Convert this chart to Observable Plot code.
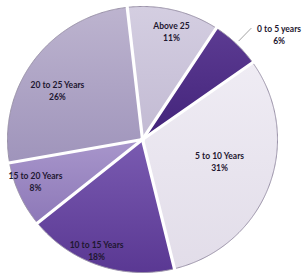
<!DOCTYPE html>
<html><head><meta charset="utf-8">
<script src="https://cdn.jsdelivr.net/npm/d3@7"></script>
<script src="https://cdn.jsdelivr.net/npm/@observablehq/plot@0.6"></script>
<style>body{margin:0;background:#fff} #chart svg{display:block}</style>
</head><body><div id="chart"></div>
<script>
// ---- data ----
const categories = ["0 to 5 years", "5 to 10 Years", "10 to 15 Years", "15 to 20 Years", "20 to 25 Years", "Above 25"];
const shares = [6, 31, 18, 8, 26, 11];

// ---- layout / style (not data) ----
const START_DEG = 33.1;
const gradTop    = ["#5c3b92", "#efecf4", "#7a5bb1", "#a896cb", "#bdb4cf", "#d4cee1"];
const gradBottom = ["#42237a", "#e2dde9", "#5a3893", "#8d78b8", "#9f94bb", "#c2bad3"];
const labelRadius = [null, 0.594, 0.90, 0.853, 0.73, 0.84];
const labelTurnDeg = [0, -4.4, 3.5, 2.8, -6.4, 1.5];
const W = 304, H = 274, CX = 142, CY = 139, RX = 135, RY = 133;

const rad = Math.PI / 180;
const arcs = d3.pie().sort(null)
  .startAngle(START_DEG * rad).endAngle(START_DEG * rad + 2 * Math.PI)(shares);

// slice outlines as polygons
const slicePts = [];
arcs.forEach((a, i) => {
  const cat = categories[i];
  slicePts.push({cat, x: 0, y: 0});
  const n = Math.max(4, Math.ceil((a.endAngle - a.startAngle) / (0.5 * rad)));
  for (let k = 0; k <= n; k++) {
    const t = a.startAngle + (a.endAngle - a.startAngle) * k / n;
    slicePts.push({cat, x: Math.sin(t), y: Math.cos(t)});
  }
  slicePts.push({cat, x: 0, y: 0});
});

const boundaries = arcs.map(a => a.startAngle);

const inside = [], outside = [];
arcs.forEach((a, i) => {
  const mid = (a.startAngle + a.endAngle) / 2;
  const text = `${categories[i]}\n${shares[i]}%`;
  if (labelRadius[i] == null) {
    outside.push({text, mid});
  } else {
    const t = mid + labelTurnDeg[i] * rad;
    inside.push({text, x: labelRadius[i] * Math.sin(t), y: labelRadius[i] * Math.cos(t)});
  }
});
const leader = outside.flatMap(o => [
  {x: 1.03 * Math.sin(o.mid), y: 1.03 * Math.cos(o.mid)},
  {x: 1.16 * Math.sin(o.mid), y: 1.16 * Math.cos(o.mid)}
]);
const outLabels = outside.map(o => ({text: o.text, x: 1.16 * Math.sin(o.mid), y: 1.16 * Math.cos(o.mid)}));

const font = {fontFamily: "Lato, 'Open Sans', sans-serif", fontWeight: "bold", fontSize: 8.5, fill: "#1e1730", lineHeight: 1.4};

const plot = Plot.plot({
  width: W, height: H,
  marginTop: 0, marginRight: 0, marginBottom: 0, marginLeft: 0,
  x: {domain: [-CX / RX, (W - CX) / RX], axis: null},
  y: {domain: [-(H - CY) / RY, CY / RY], axis: null},
  color: {domain: categories, range: categories.map((_, i) => `url(#slicegrad${i})`)},
  marks: [
    Plot.line(slicePts, {x: "x", y: "y", z: "cat", fill: "cat", stroke: "#9a92a8", strokeWidth: 1, curve: "linear-closed"}),
    Plot.link(boundaries, {x1: 0, y1: 0, x2: d => 1.05 * Math.sin(d), y2: d => 1.05 * Math.cos(d), stroke: "white", strokeWidth: 3.2, strokeLinecap: "round"}),
    Plot.dot([0], {x: 0, y: 0, r: 2.5, fill: "white", stroke: "none"}),
    Plot.line(leader, {x: "x", y: "y", stroke: "#8c8c8c", strokeWidth: 0.8}),
    Plot.text(inside, {x: "x", y: "y", text: "text", ...font}),
    Plot.text(outLabels, {x: "x", y: "y", text: "text", dx: 28, dy: 6, ...font})
  ]
});

const defs = d3.select(plot).insert("defs", ":first-child");
categories.forEach((_, i) => {
  const g = defs.append("linearGradient").attr("id", `slicegrad${i}`)
    .attr("x1", 0).attr("y1", 0).attr("x2", 0).attr("y2", 1);
  g.append("stop").attr("offset", "0%").attr("stop-color", gradTop[i]);
  g.append("stop").attr("offset", "100%").attr("stop-color", gradBottom[i]);
});

document.getElementById("chart").appendChild(plot);
</script>
</body></html>
